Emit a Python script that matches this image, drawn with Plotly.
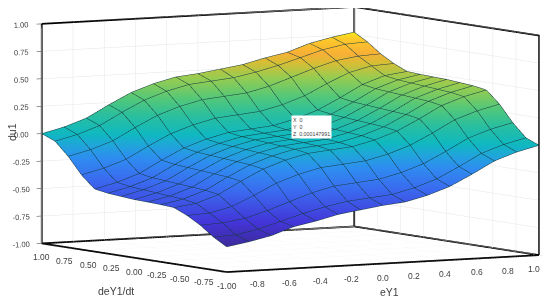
import plotly.graph_objects as go

eY1 = [-1.0, -0.857, -0.714, -0.571, -0.429, -0.286, -0.143, 0.0, 0.143, 0.286, 0.429, 0.571, 0.714, 0.857, 1.0]
deY1 = [-1.0, -0.857, -0.714, -0.571, -0.429, -0.286, -0.143, 0.0, 0.143, 0.286, 0.429, 0.571, 0.714, 0.857, 1.0]
du1 = [
    [-.77, -.735, -.69, -.62, -.58, -.53, -.50, -.47, -.45, -.40, -.33, -.23, -.12, -.05, 0],
    [-.70, -.69, -.65, -.59, -.53, -.48, -.44, -.42, -.40, -.35, -.28, -.18, -.07, 0, .05],
    [-.61, -.60, -.57, -.51, -.44, -.37, -.32, -.30, -.28, -.23, -.16, -.06, .05, .12, .17],
    [-.54, -.53, -.48, -.39, -.29, -.22, -.17, -.15, -.13, -.08, -.01, .09, .20, .27, .32],
    [-.487, -.46, -.39, -.28, -.18, -.11, -.06, -.04, -.02, .03, .10, .20, .31, .38, .43],
    [-.479, -.44, -.37, -.26, -.16, -.09, -.04, -.02, 0, .05, .12, .22, .33, .40, .45],
    [-.474, -.43, -.36, -.25, -.15, -.08, -.03, -.01, .01, .06, .13, .23, .34, .41, .46],
    [-.47, -.42, -.35, -.24, -.14, -.07, -.02, 0, .02, .07, .14, .24, .35, .42, .47],
    [-.46, -.41, -.34, -.23, -.13, -.06, -.01, .01, .03, .08, .15, .25, .36, .43, .474],
    [-.45, -.40, -.33, -.22, -.12, -.05, 0, .02, .04, .09, .16, .26, .37, .44, .479],
    [-.43, -.38, -.31, -.20, -.10, -.03, .02, .04, .06, .11, .18, .28, .39, .46, .487],
    [-.32, -.27, -.20, -.09, .01, .08, .13, .15, .17, .22, .29, .39, .48, .53, .54],
    [-.17, -.12, -.05, .06, .16, .23, .28, .30, .32, .37, .44, .51, .57, .60, .61],
    [-.05, 0, .07, .18, .28, .35, .40, .42, .44, .48, .53, .59, .65, .69, .70],
    [0, .05, .12, .23, .33, .40, .45, .47, .50, .53, .58, .62, .69, .735, .77],
]
z_ticks = [-1, -0.75, -0.5, -0.25, 0, 0.25, 0.5, 0.75, 1]
z_labels = ["-1.00", "-0.75", "-0.50", "-0.25", "0.00", "0.25", "0.50", "0.75", "1.00"]
x_ticks = [-1, -0.8, -0.6, -0.4, -0.2, 0, 0.2, 0.4, 0.6, 0.8, 1]
x_labels = ["", "-0.8", "-0.6", "-0.4", "-0.2", "0.0", "0.2", "0.4", "0.6", "0.8", "1.0"]
y_ticks = [-1, -0.75, -0.5, -0.25, 0, 0.25, 0.5, 0.75, 1]
y_labels = ["-1.00", "-0.75", "-0.50", "-0.25", "0.00", "0.25", "0.50", "0.75", "1.00"]

colors = [[0.0, "#3d2a9c"], [0.11, "#4335d8"], [0.27, "#3a6cf0"], [0.38, "#2e8ef0"], [0.45, "#1ea8d8"],
          [0.5, "#10b8c0"], [0.6, "#2bbf9e"], [0.69, "#55c878"], [0.79, "#98cc50"], [0.86, "#d8bd35"],
          [0.9, "#f8b036"], [0.97, "#fdc82a"], [1.0, "#f9e61a"]]

TXT = "#404040"
FONT = "Liberation Sans"
PAGE_OFFSET = 8

fig = go.Figure()
fig.add_trace(go.Surface(
    x=eY1, y=deY1, z=du1, colorscale=colors, cmin=-0.77, cmax=0.77, showscale=False,
    lighting=dict(ambient=1, diffuse=0, specular=0, roughness=1, fresnel=0),
    contours=dict(
        x=dict(show=True, start=-1, end=1.001, size=2 / 14, color="#14383c", width=1, highlight=False),
        y=dict(show=True, start=-1, end=1.001, size=2 / 14, color="#14383c", width=1, highlight=False),
        z=dict(highlight=False),
    ),
    hoverinfo="skip",
))
# frame of the axes box
fx = [-1, 1, 1, -1, -1, -1, 1, 1, 1, None, -1, -1, None, 1, 1, None, 1, 1]
fy = [1, 1, -1, -1, 1, 1, 1, -1, -1, None, 1, 1, None, 1, 1, None, -1, -1]
fz = [-1, -1, -1, -1, -1, 1, 1, 1, -1, None, -1, 1, None, -1, 1, None, -1, 1]
fig.add_trace(go.Scatter3d(x=fx, y=fy, z=fz, mode="lines", line=dict(color="#000000", width=3.5),
                           hoverinfo="skip", showlegend=False))

def axis(tv, tt):
    return dict(title=dict(text=""),
                range=[-1, 1], autorange=False, tickmode="array", tickvals=tv, ticktext=tt,
                tickfont=dict(family=FONT, size=9.5, color=TXT),
                ticks="outside", ticklen=6, tickcolor="#333333", tickwidth=1,
                showgrid=True, gridcolor="#e6e6e6", gridwidth=1,
                showline=False, zeroline=False, showbackground=False, showspikes=False)

def title_note(text, px, py, angle=0):
    return dict(xref="paper", yref="paper", x=(px - PAGE_OFFSET) / 550, y=1 - (py - PAGE_OFFSET) / 300,
                xanchor="center", yanchor="middle", text=text, showarrow=False, textangle=angle,
                font=dict(family=FONT, size=10.5, color=TXT))

def tick_note(text, x, y, xshift=0):
    return dict(x=x, y=y, z=-1, text=text, showarrow=False, xanchor="center", yanchor="middle",
                yshift=-14, xshift=xshift, font=dict(family=FONT, size=8.5, color=TXT))

scene_notes = [tick_note(t, -1, v) for v, t in zip(y_ticks, y_labels)]
scene_notes += [tick_note(t, v, -1, -5 if v == 1 else 0) for v, t in zip(x_ticks, x_labels) if t]

fig.update_layout(
    width=550, height=300, margin=dict(l=0, r=0, t=0, b=0), paper_bgcolor="white",
    font=dict(family=FONT),
    scene=dict(
        domain=dict(x=[0, 1], y=[0, 1]),
        xaxis=axis(x_ticks, [" "] * len(x_ticks)),
        yaxis=axis(y_ticks, [" "] * len(y_ticks)),
        zaxis=axis(z_ticks, z_labels),
        aspectmode="manual", aspectratio=dict(x=2.42, y=2.42, z=1.47),
        camera=dict(projection=dict(type="orthographic"), up=dict(x=0, y=0, z=1),
                    center=dict(x=-0.043, y=0.025, z=-0.124), eye=dict(x=-2.073, y=-3.405, z=0.243)),
        annotations=scene_notes,
    ),
    annotations=[dict(xref="paper", yref="paper", x=(291 - PAGE_OFFSET) / 550, y=1 - (115 - PAGE_OFFSET) / 300,
                      xanchor="left", yanchor="top",
                      text="X  0<br>Y  0<br>Z  0.000147991", showarrow=False, align="left",
                      font=dict(family=FONT, size=5.3, color="#444444"), bgcolor="white", borderpad=1),
                 title_note("du1", 12, 132, -90),
                 title_note("deY1/dt", 116, 291),
                 title_note("eY1", 389, 292)],
)
fig.write_html("out.html")
